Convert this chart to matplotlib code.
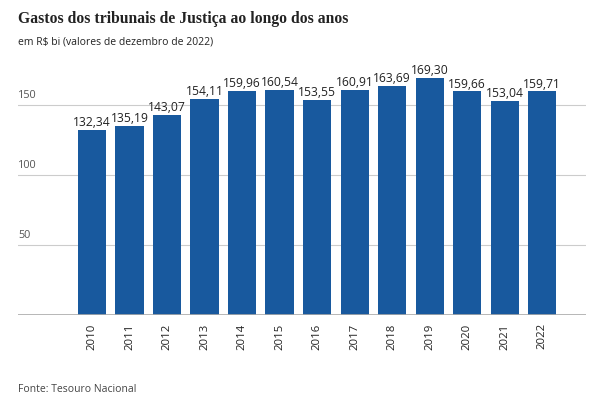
import matplotlib
matplotlib.use("Agg")
from matplotlib import pyplot as plt
import matplotlib.transforms as mtransforms

anos = ['2010', '2011', '2012', '2013', '2014', '2015', '2016',
        '2017', '2018', '2019', '2020', '2021', '2022']
gastos = [132.34, 135.19, 143.07, 154.11, 159.96, 160.54, 153.55,
          160.91, 163.69, 169.30, 159.66, 153.04, 159.71]
yticks = [50, 100, 150]

azul = '#18599e'

fig = plt.figure(figsize=(5.92, 4.16), dpi=100)
ax = fig.add_axes([18/592, 101/416, (586-18)/592, 245/416])

x = list(range(len(anos)))
ax.bar(x, gastos, width=0.75, color=azul, zorder=3)

# rótulos de valor acima das barras
for xi, v in zip(x, gastos):
    ax.text(xi, v + 0.6, '{:.2f}'.format(v).replace('.', ','),
            ha='center', va='bottom', fontsize=8.7, family='Open Sans',
            color='#222222', zorder=4)

ax.set_xlim(-1.973, 13.17)
ax.set_ylim(0, 175)

# grade horizontal
for t in yticks:
    ax.axhline(t, color='#cccccc', lw=0.8, zorder=1)
ax.axhline(0, color='#aaaaaa', lw=1.2, zorder=4)

trans = mtransforms.blended_transform_factory(ax.transAxes, ax.transData)
for t in yticks:
    ax.text(0, t + 3, str(t), transform=trans, ha='left', va='bottom',
            fontsize=7.8, family='Open Sans', color='#555555')

ax.set_yticks([])
ax.set_xticks(x)
ax.set_xticklabels(anos, rotation=90, fontsize=8.2, family='Open Sans', color='#222222')
ax.tick_params(axis='x', length=0, pad=6)
for s in ax.spines.values():
    s.set_visible(False)

fig.text(18/592, 1 - 19/416, 'Gastos dos tribunais de Justiça ao longo dos anos',
         fontsize=11.3, family='Liberation Serif', weight='bold', color='#222222',
         va='center', ha='left')
fig.text(18/592, 1 - 42/416, 'em R$ bi (valores de dezembro de 2022)',
         fontsize=7.5, family='Open Sans', color='#222222', va='center', ha='left')
fig.text(18/592, 1 - 389/416, 'Fonte: Tesouro Nacional',
         fontsize=7.5, family='Open Sans', color='#444444', va='center', ha='left')

fig.savefig('out.png', dpi=100)
